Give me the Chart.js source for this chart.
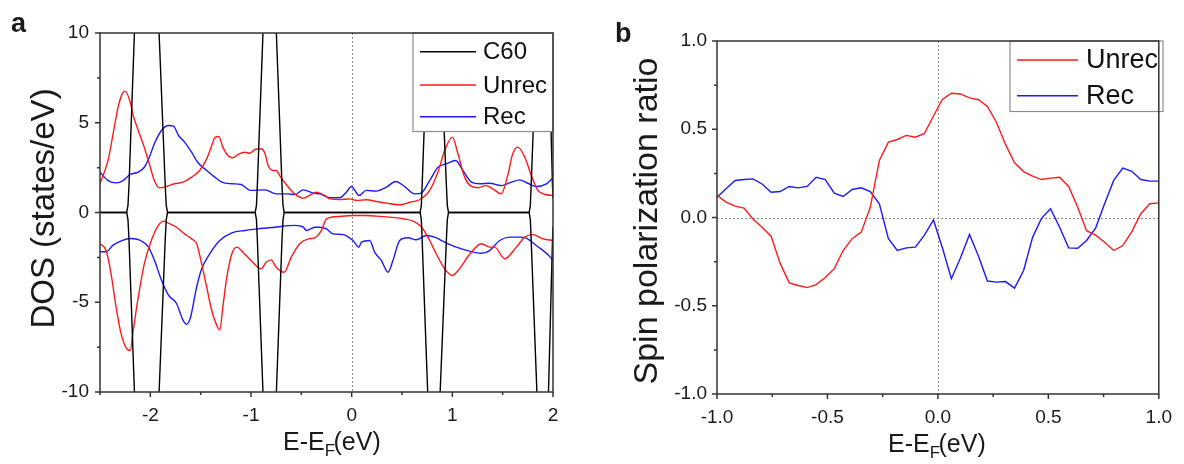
<!DOCTYPE html>
<html>
<head>
<meta charset="utf-8">
<script src="https://cdn.jsdelivr.net/npm/chart.js@4.4.0/dist/chart.umd.min.js"></script>
<style>
  html, body { margin: 0; padding: 0; background: #fff; }
  #wrap { position: relative; width: 1184px; height: 464px; }
  canvas { position: absolute; top: 0; }
  #dosChart { left: 0; }
  #spinChart { left: 592px; }
</style>
</head>
<body>
<div id="wrap">
  <canvas id="dosChart" width="592" height="464"></canvas>
  <canvas id="spinChart" width="592" height="464"></canvas>
</div>
<script>
// ---- panel a: DOS, [energy (eV), states/eV] ----
const c60Up = [[-2.5,0],[-2.235,0],[-2.222,0.4],[-2.212,1.5],[-2.158,10],[-2.1,80],[-1.96,80],[-1.913,10],[-1.852,1.5],[-1.842,0.4],[-1.829,0],
  [-0.958,0],[-0.946,0.4],[-0.937,1.5],[-0.881,10],[-0.83,80],[-0.8,80],[-0.748,10],[-0.692,1.5],[-0.682,0.4],[-0.67,0],
  [0.68,0],[0.692,0.4],[0.7,1.5],[0.755,10],[0.8,80],[0.83,80],[0.879,10],[0.941,1.5],[0.95,0.4],[0.962,0],
  [1.763,0],[1.775,0.4],[1.783,1.5],[1.84,10],[1.89,80],[1.92,80],[1.955,10],[1.995,1.5],[2.0,0.8]];
const c60Dn = [[-2.5,0],[-2.235,0],[-2.222,-0.4],[-2.212,-1.5],[-2.158,-10],[-2.1,-80],[-1.96,-80],[-1.913,-10],[-1.852,-1.5],[-1.842,-0.4],[-1.829,0],
  [-0.958,0],[-0.946,-0.4],[-0.937,-1.5],[-0.881,-10],[-0.83,-80],[-0.8,-80],[-0.748,-10],[-0.692,-1.5],[-0.682,-0.4],[-0.67,0],
  [0.68,0],[0.692,-0.4],[0.7,-1.5],[0.755,-10],[0.8,-80],[0.83,-80],[0.879,-10],[0.941,-1.5],[0.95,-0.4],[0.962,0],
  [1.763,0],[1.775,-0.4],[1.783,-1.5],[1.84,-10],[1.89,-80],[1.92,-80],[1.955,-10],[1.995,-1.5],[2.0,-0.8]];
const unrecUp = [[-2.5,1.6],[-2.42,2.9],[-2.37,4.38],[-2.32,5.87],[-2.28,6.61],[-2.25,6.76],[-2.2,6.15],[-2.17,5.4],[-2.12,4.57],[-2.06,3.64],
  [-2.01,2.71],[-1.96,1.78],[-1.91,1.37],[-1.84,1.45],[-1.76,1.6],[-1.675,1.69],[-1.59,1.97],[-1.51,2.34],[-1.44,2.99],[-1.39,3.73],
  [-1.36,4.16],[-1.32,4.23],[-1.28,3.64],[-1.23,3.18],[-1.18,3.05],[-1.13,3.23],[-1.06,3.36],[-1.01,3.3],[-0.96,3.51],[-0.9,3.55],
  [-0.86,3.27],[-0.83,2.62],[-0.78,2.34],[-0.75,2.34],[-0.715,2.06],[-0.65,1.56],[-0.566,1.04],[-0.48,0.8],[-0.42,0.95],[-0.35,1.13],
  [-0.27,0.95],[-0.218,0.76],[-0.119,0.72],[-0.02,0.76],[0.047,0.67],[0.146,0.71],[0.245,0.61],[0.345,0.52],[0.477,0.43],[0.576,0.57],
  [0.675,0.71],[0.775,1.23],[0.857,2.25],[0.924,3.45],[1.0,4.2],[1.056,3.27],[1.122,1.97],[1.19,1.45],[1.254,1.38],[1.337,1.5],
  [1.4,1.32],[1.487,1.04],[1.55,2.06],[1.6,3.27],[1.65,3.64],[1.72,3.08],[1.785,2.06],[1.85,1.23],[1.934,0.99],[2.0,0.95]];
const unrecDn = [[-2.5,-1.74],[-2.44,-2.12],[-2.39,-3.42],[-2.34,-5.28],[-2.29,-6.76],[-2.24,-7.54],[-2.2,-7.69],[-2.17,-6.57],[-2.12,-4.72],[-2.06,-2.86],
  [-1.99,-1.56],[-1.92,-0.72],[-1.87,-0.48],[-1.82,-0.59],[-1.74,-0.82],[-1.66,-1.19],[-1.59,-1.47],[-1.54,-1.74],[-1.49,-2.86],[-1.44,-4.16],
  [-1.39,-5.46],[-1.34,-6.29],[-1.31,-6.54],[-1.28,-5.28],[-1.24,-3.6],[-1.19,-2.3],[-1.14,-1.93],[-1.08,-2.21],[-1.0,-2.67],[-0.9,-3.14],
  [-0.85,-2.77],[-0.8,-2.64],[-0.75,-3.05],[-0.67,-3.33],[-0.6,-2.49],[-0.516,-1.74],[-0.43,-1.47],[-0.367,-1.41],[-0.3,-1.0],[-0.25,-0.35],
  [-0.12,-0.22],[0.013,-0.17],[0.146,-0.17],[0.245,-0.2],[0.377,-0.26],[0.51,-0.35],[0.61,-0.48],[0.69,-0.78],[0.775,-1.56],[0.84,-2.3],
  [0.924,-3.14],[1.0,-3.51],[1.07,-3.14],[1.17,-2.34],[1.29,-1.74],[1.37,-1.93],[1.42,-1.93],[1.52,-2.58],[1.636,-1.93],[1.72,-1.37],
  [1.8,-1.23],[1.9,-1.47],[2.0,-1.56]];
const recUp = [[-2.5,2.25],[-2.42,1.78],[-2.34,1.65],[-2.27,1.78],[-2.2,2.12],[-2.12,2.25],[-2.06,2.52],[-2.01,3.08],[-1.96,3.83],[-1.89,4.57],
  [-1.82,4.85],[-1.77,4.81],[-1.72,4.29],[-1.66,3.92],[-1.59,3.36],[-1.53,2.8],[-1.44,2.34],[-1.36,1.97],[-1.29,1.69],[-1.19,1.6],
  [-1.1,1.56],[-1.0,1.23],[-0.86,1.26],[-0.75,1.04],[-0.63,1.04],[-0.566,1.0],[-0.48,1.26],[-0.38,1.08],[-0.318,1.04],[-0.218,0.82],
  [-0.119,0.82],[-0.053,1.13],[-0.003,1.45],[0.073,0.95],[0.146,1.23],[0.245,1.19],[0.345,1.41],[0.437,1.73],[0.526,1.45],[0.626,1.04],
  [0.69,1.08],[0.775,1.78],[0.857,2.52],[0.94,2.71],[1.033,2.9],[1.105,2.34],[1.19,1.69],[1.27,1.6],[1.37,1.63],[1.487,1.5],
  [1.586,1.69],[1.668,1.82],[1.75,1.63],[1.834,1.45],[1.934,1.6],[2.0,1.93]];
const recDn = [[-2.5,-2.19],[-2.44,-2.19],[-2.37,-1.82],[-2.29,-1.58],[-2.19,-1.45],[-2.105,-1.54],[-2.02,-1.91],[-1.96,-2.65],[-1.89,-3.76],[-1.82,-4.6],
  [-1.74,-5.07],[-1.675,-6.0],[-1.64,-6.23],[-1.6,-5.82],[-1.54,-4.16],[-1.49,-3.14],[-1.41,-2.3],[-1.31,-1.56],[-1.19,-1.13],[-1.06,-1.0],
  [-0.93,-0.91],[-0.765,-0.82],[-0.566,-0.72],[-0.48,-0.82],[-0.45,-1.0],[-0.367,-0.82],[-0.318,-0.82],[-0.25,-0.91],[-0.186,-1.19],[-0.086,-1.23],
  [0.013,-1.56],[0.073,-1.93],[0.096,-1.65],[0.179,-1.56],[0.228,-2.21],[0.295,-2.67],[0.361,-3.33],[0.41,-2.67],[0.477,-1.56],[0.56,-1.41],
  [0.642,-1.52],[0.742,-1.28],[0.824,-1.37],[0.924,-1.65],[1.04,-1.93],[1.17,-2.15],[1.29,-2.27],[1.37,-2.12],[1.47,-1.56],[1.57,-1.37],
  [1.668,-1.37],[1.735,-1.43],[1.834,-1.84],[1.934,-2.27],[2.0,-2.64]];

// ---- panel b: spin polarization ratio ----
const energyB = [-1.000,-0.959,-0.918,-0.878,-0.837,-0.796,-0.755,-0.714,-0.673,-0.633,
  -0.592,-0.551,-0.510,-0.469,-0.429,-0.388,-0.347,-0.306,-0.265,-0.224,
  -0.184,-0.143,-0.102,-0.061,-0.020,0.020,0.061,0.102,0.143,0.184,
  0.224,0.265,0.306,0.347,0.388,0.429,0.469,0.510,0.551,0.592,
  0.633,0.673,0.714,0.755,0.796,0.837,0.878,0.918,0.959,1.000];
const unrecRatio = [0.125,0.087,0.064,0.053,-0.008,-0.055,-0.106,-0.26,-0.37,-0.385,
  -0.397,-0.38,-0.34,-0.29,-0.187,-0.12,-0.083,0.058,0.323,0.427,
  0.442,0.465,0.455,0.476,0.575,0.669,0.704,0.70,0.678,0.667,
  0.629,0.54,0.414,0.31,0.26,0.234,0.215,0.223,0.228,0.176,
  0.058,-0.075,-0.10,-0.14,-0.187,-0.159,-0.08,0.02,0.078,0.083];
const recRatio = [0.115,0.163,0.21,0.215,0.219,0.19,0.143,0.147,0.176,0.168,
  0.176,0.228,0.215,0.138,0.119,0.159,0.168,0.147,0.078,-0.12,
  -0.187,-0.172,-0.168,-0.10,-0.014,-0.17,-0.347,-0.23,-0.096,-0.22,
  -0.36,-0.366,-0.363,-0.40,-0.30,-0.111,-0.005,0.05,-0.055,-0.172,
  -0.174,-0.13,-0.06,0.079,0.21,0.28,0.262,0.215,0.206,0.206];

const xTicksA = [-2, -1, 0, 1, 2];
const yTicksA = [-10, -5, 0, 5, 10];
const xTicksB = [-1, -0.5, 0, 0.5, 1];
const yTicksB = [-1, -0.5, 0, 0.5, 1];

Chart.defaults.font.family = "'Liberation Sans', Arial, sans-serif";
Chart.defaults.color = '#1a1a1a';
Chart.defaults.animation = false;

const pts = arr => arr.map(([x, y]) => ({ x, y }));
const near = (list, v) => list.some(t => Math.abs(t - v) < 1e-6);

// frame, minor/major ticks, zero lines, legend box, axis titles, panel letter
const decor = {
  id: 'decor',
  beforeDatasetsDraw(chart, args, o) {
    const { ctx, chartArea: a, scales: { x, y } } = chart;
    ctx.save();
    ctx.strokeStyle = '#8c8c8c';
    ctx.lineWidth = 1;
    ctx.setLineDash([2, 2]);
    ctx.beginPath();
    const px = Math.round(x.getPixelForValue(0)) + 0.5;
    ctx.moveTo(px, a.top); ctx.lineTo(px, a.bottom);
    if (o.zeroY) {
      const py = Math.round(y.getPixelForValue(0)) + 0.5;
      ctx.moveTo(a.left, py); ctx.lineTo(a.right, py);
    }
    ctx.stroke();
    ctx.restore();
  },
  afterDatasetsDraw(chart, args, o) {
    const { ctx, chartArea: a, scales: { x, y } } = chart;
    ctx.save();
    // legend
    const L = o.legend;
    ctx.fillStyle = '#fff';
    ctx.fillRect(L.x0, L.y0, L.x1 - L.x0, L.y1 - L.y0);
    ctx.strokeStyle = '#8c8c8c';
    ctx.lineWidth = 1.2;
    ctx.strokeRect(L.x0, L.y0, L.x1 - L.x0, L.y1 - L.y0);
    const seen = [];
    chart.data.datasets.forEach(ds => { if (!seen.find(s => s.label === ds.label)) seen.push(ds); });
    ctx.font = L.size + "px 'Liberation Sans', Arial, sans-serif";
    ctx.textBaseline = 'middle';
    ctx.textAlign = 'left';
    seen.forEach((ds, i) => {
      const ry = L.rows[i];
      ctx.strokeStyle = ds.borderColor;
      ctx.lineWidth = 1.5;
      ctx.beginPath(); ctx.moveTo(L.lx0, ry); ctx.lineTo(L.lx1, ry); ctx.stroke();
      ctx.fillStyle = '#111';
      ctx.fillText(ds.label, L.tx, ry + 1);
    });
    // frame
    ctx.strokeStyle = '#333';
    ctx.lineWidth = 1.5;
    ctx.strokeRect(a.left, a.top, a.right - a.left, a.bottom - a.top);
    ctx.beginPath();
    x.ticks.forEach(t => {
      const p = x.getPixelForValue(t.value);
      ctx.moveTo(p, a.bottom); ctx.lineTo(p, a.bottom + (t.label ? 5 : 3));
    });
    y.ticks.forEach(t => {
      const p = y.getPixelForValue(t.value);
      ctx.moveTo(a.left, p); ctx.lineTo(a.left - (t.label ? 5 : 3), p);
    });
    ctx.stroke();
    // titles
    ctx.fillStyle = '#1a1a1a';
    ctx.textBaseline = 'alphabetic';
    const fam = "'Liberation Sans', Arial, sans-serif";
    const T = o.xTitle;
    let cx = T.x;
    ctx.font = T.size + 'px ' + fam;
    ctx.fillText('E-E', cx, T.y);
    cx += ctx.measureText('E-E').width;
    ctx.font = Math.round(T.size * 0.66) + 'px ' + fam;
    ctx.fillText('F', cx, T.y + 6);
    cx += ctx.measureText('F').width * 0.85;
    ctx.font = T.size + 'px ' + fam;
    ctx.fillText('(eV)', cx, T.y);
    const Y = o.yTitle;
    ctx.save();
    ctx.translate(Y.x, Y.y);
    ctx.rotate(-Math.PI / 2);
    ctx.textAlign = 'center';
    ctx.font = Y.size + 'px ' + fam;
    ctx.fillText(Y.text, 0, 0);
    ctx.restore();
    ctx.textAlign = 'left';
    ctx.font = 'bold 27px ' + fam;
    ctx.fillText(o.letter.text, o.letter.x, o.letter.y);
    ctx.restore();
  }
};

const tickFont = { size: 19 };
const noGrid = { display: false, drawTicks: false };
const line = (label, color, data, smooth) => ({
  label, data: pts(data), borderColor: color, borderWidth: 1.4,
  pointRadius: 0, fill: false,
  cubicInterpolationMode: smooth ? 'monotone' : 'default', tension: 0
});

new Chart(document.getElementById('dosChart'), {
  type: 'line',
  data: {
    datasets: [
      line('C60', '#000000', c60Up, false),
      line('C60', '#000000', c60Dn, false),
      line('Unrec', '#ff1a1a', unrecUp, true),
      line('Unrec', '#ff1a1a', unrecDn, true),
      line('Rec', '#1a1aff', recUp, true),
      line('Rec', '#1a1aff', recDn, true)
    ]
  },
  options: {
    responsive: false,
    layout: { padding: { left: 0, right: 39, top: 33, bottom: 0 } },
    plugins: {
      legend: { display: false },
      tooltip: { enabled: false },
      decor: {
        zeroY: false,
        legend: { x0: 413, y0: 33, x1: 553, y1: 131.5, lx0: 420, lx1: 476, tx: 483, rows: [51.7, 85, 116.7], size: 24 },
        xTitle: { x: 283, y: 450, size: 25 },
        yTitle: { text: 'DOS (states/eV)', x: 54, y: 208.5, size: 33 },
        letter: { text: 'a', x: 11, y: 32 }
      }
    },
    scales: {
      x: {
        type: 'linear', min: -2.5, max: 2,
        afterFit: s => { s.height = 72; },
        grid: noGrid, border: { display: false },
        ticks: { stepSize: 0.5, autoSkip: false, maxRotation: 0, padding: 12, font: tickFont,
          callback: v => near(xTicksA, v) ? String(v) : '' }
      },
      y: {
        type: 'linear', min: -10, max: 10,
        afterFit: s => { s.width = 100; },
        grid: noGrid, border: { display: false },
        ticks: { stepSize: 2.5, autoSkip: false, padding: 11, font: tickFont,
          callback: v => near(yTicksA, v) ? String(v) : '' }
      }
    }
  },
  plugins: [decor]
});

const fmt1 = v => (Math.abs(v) < 1e-9 ? 0 : v).toFixed(1);

new Chart(document.getElementById('spinChart'), {
  type: 'line',
  data: {
    datasets: [
      { label: 'Unrec', data: energyB.map((e, i) => ({ x: e, y: unrecRatio[i] })), borderColor: '#ff1a1a', borderWidth: 1.4, pointRadius: 0, tension: 0 },
      { label: 'Rec', data: energyB.map((e, i) => ({ x: e, y: recRatio[i] })), borderColor: '#1a1aff', borderWidth: 1.4, pointRadius: 0, tension: 0 }
    ]
  },
  options: {
    responsive: false,
    layout: { padding: { left: 0, right: 21, top: 41, bottom: 0 } },
    plugins: {
      legend: { display: false },
      tooltip: { enabled: false },
      decor: {
        zeroY: true,
        legend: { x0: 418, y0: 41, x1: 571, y1: 111.5, lx0: 425, lx1: 486, tx: 494, rows: [60, 95.7], size: 27 },
        xTitle: { x: 296, y: 451.5, size: 25 },
        yTitle: { text: 'Spin polarization ratio', x: 64.5, y: 221, size: 34 },
        letter: { text: 'b', x: 23, y: 42 }
      }
    },
    scales: {
      x: {
        type: 'linear', min: -1, max: 1,
        afterFit: s => { s.height = 70; },
        grid: noGrid, border: { display: false },
        ticks: { stepSize: 0.25, autoSkip: false, maxRotation: 0, padding: 12, font: tickFont,
          callback: v => near(xTicksB, v) ? fmt1(v) : '' }
      },
      y: {
        type: 'linear', min: -1, max: 1,
        afterFit: s => { s.width = 125; },
        grid: noGrid, border: { display: false },
        ticks: { stepSize: 0.25, autoSkip: false, padding: 10, font: tickFont,
          callback: v => near(yTicksB, v) ? fmt1(v) : '' }
      }
    }
  },
  plugins: [decor]
});
</script>
</body>
</html>
